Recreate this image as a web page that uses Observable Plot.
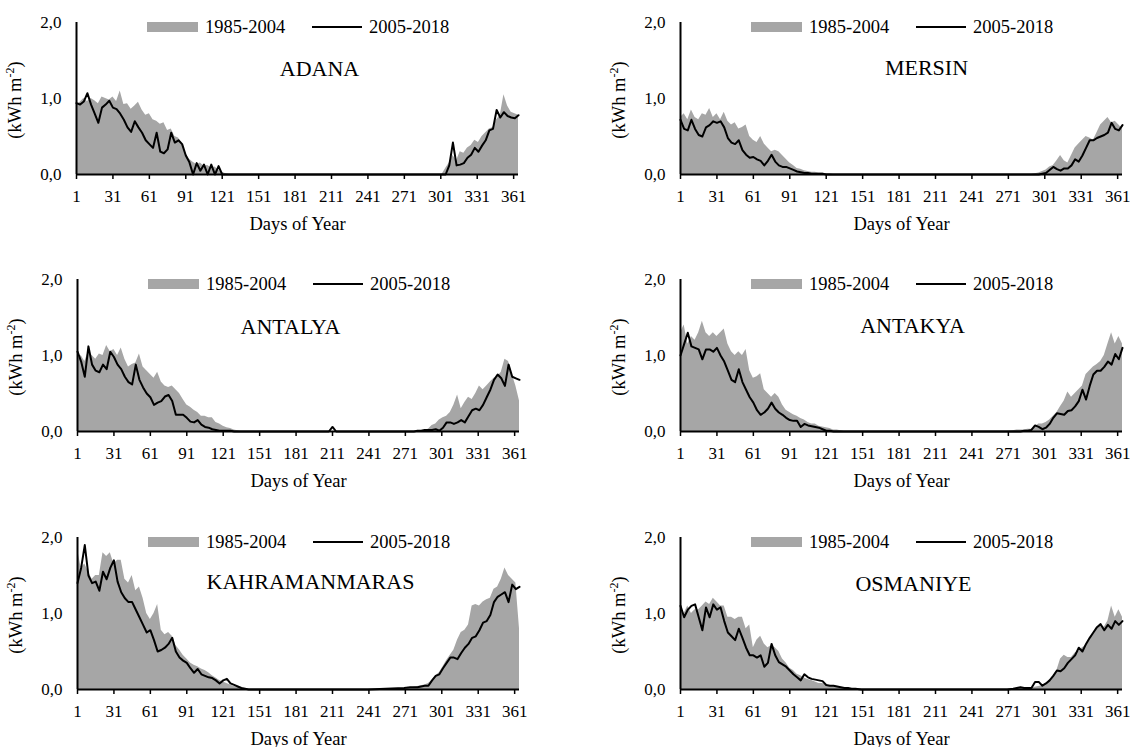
<!DOCTYPE html>
<html><head><meta charset="utf-8">
<script src="https://cdn.jsdelivr.net/npm/d3@7"></script>
<script src="https://cdn.jsdelivr.net/npm/@observablehq/plot@0.6"></script>
<style>
html,body{margin:0;padding:0;background:#fff;overflow:hidden;}
#root{position:relative;width:1134px;height:747px;font-family:"Liberation Serif","Times New Roman",serif;}
.panel{position:absolute;}
</style></head><body><div id="root"></div>
<script>
const days = [1,4,7,10,13,16,19,22,25,28,31,34,37,40,43,46,49,52,55,58,61,64,67,70,73,76,79,82,85,88,91,94,97,100,103,106,109,112,115,118,121,124,127,130,133,136,139,142,145,
  150,165,180,195,208,211,214,225,240,255,270,
  275,278,281,284,287,290,293,296,299,302,305,308,311,314,317,320,323,326,329,332,335,338,341,344,347,350,353,356,359,362,365];
const xTicks = [1,31,61,91,121,151,181,211,241,271,301,331,361];
const yTicks = [0,1,2];
const seriesNames = ["1985-2004","2005-2018"];
const xLabel = "Days of Year";
const stations = ["ADANA","MERSIN","ANTALYA","ANTAKYA","KAHRAMANMARAS","OSMANIYE"];

const adana1985 = [0.92,0.95,1.0,0.96,1.0,0.97,0.93,1.02,1.0,0.98,1.02,0.96,1.1,0.92,0.93,0.86,0.9,0.95,0.85,0.78,0.8,0.72,0.7,0.66,0.68,0.58,0.6,0.5,0.48,0.4,0.28,0.2,0.16,0.13,0.15,0.11,0.12,0.09,0.1,0.06,0.03,0.01,0,0,0,0,0,0,0,
  0,0,0,0,0,0,0,0,0,0,0,
  0,0,0,0,0,0,0,0,0,0,0.08,0.15,0.25,0.18,0.3,0.28,0.35,0.38,0.45,0.42,0.5,0.55,0.6,0.62,0.72,0.78,1.05,0.9,0.82,0.8,0.78];
const adana2005 = [0.94,0.92,0.96,1.07,0.92,0.8,0.68,0.88,0.92,0.97,0.88,0.86,0.8,0.72,0.62,0.56,0.7,0.62,0.55,0.45,0.4,0.35,0.55,0.3,0.28,0.33,0.55,0.42,0.45,0.4,0.25,0.16,0,0.15,0.05,0.13,0,0.13,0,0.11,0,0,0,0,0,0,0,0,0,
  0,0,0,0,0,0,0,0,0,0,0,
  0,0,0,0,0,0,0,0,0,0,0,0.12,0.42,0.12,0.13,0.15,0.22,0.26,0.35,0.3,0.38,0.45,0.58,0.6,0.85,0.75,0.82,0.77,0.75,0.74,0.78];
const mersin1985 = [0.75,0.8,0.72,0.85,0.75,0.72,0.8,0.78,0.87,0.75,0.8,0.72,0.82,0.7,0.65,0.68,0.6,0.62,0.65,0.5,0.45,0.42,0.5,0.4,0.35,0.3,0.32,0.3,0.25,0.2,0.15,0.12,0.08,0.07,0.05,0.04,0.03,0.03,0.02,0.02,0.01,0.01,0,0,0,0,0,0,0,
  0,0,0,0,0,0,0,0,0,0,0,
  0,0,0,0,0,0,0.01,0.02,0.04,0.06,0.1,0.12,0.18,0.25,0.18,0.15,0.25,0.35,0.4,0.45,0.5,0.48,0.45,0.55,0.65,0.7,0.75,0.68,0.7,0.65,0.6];
const mersin2005 = [0.72,0.6,0.58,0.72,0.6,0.52,0.5,0.62,0.65,0.7,0.68,0.7,0.62,0.48,0.42,0.4,0.45,0.32,0.26,0.22,0.23,0.2,0.18,0.12,0.18,0.26,0.17,0.12,0.1,0.1,0.08,0.06,0.04,0.03,0.02,0.02,0.01,0.01,0.01,0.01,0,0,0,0,0,0,0,0,0,
  0,0,0,0,0,0,0,0,0,0,0,
  0,0,0,0,0,0,0,0,0.01,0.02,0.06,0.1,0.07,0.05,0.08,0.08,0.12,0.2,0.17,0.25,0.35,0.45,0.45,0.48,0.5,0.52,0.55,0.68,0.6,0.58,0.65];
const antalya1985 = [0.95,1.0,0.92,1.05,1.0,0.95,1.02,1.0,1.13,1.05,1.08,1.0,1.1,0.95,0.85,0.88,0.9,1.02,0.85,0.8,0.75,0.7,0.78,0.65,0.6,0.58,0.6,0.55,0.5,0.42,0.35,0.32,0.28,0.25,0.2,0.2,0.18,0.18,0.12,0.1,0.07,0.05,0.04,0.02,0.01,0,0,0,0,
  0,0,0,0,0,0,0,0,0,0,0,
  0,0,0,0.01,0.02,0.03,0.08,0.1,0.15,0.18,0.2,0.25,0.35,0.48,0.3,0.38,0.45,0.42,0.5,0.6,0.55,0.6,0.65,0.7,0.72,0.78,0.95,0.92,0.75,0.6,0.4];
const antalya2005 = [1.05,0.92,0.72,1.12,0.88,0.8,0.78,0.88,0.82,1.05,0.98,0.88,0.82,0.72,0.65,0.62,0.88,0.68,0.58,0.5,0.45,0.35,0.38,0.4,0.46,0.48,0.4,0.22,0.22,0.22,0.18,0.13,0.12,0.15,0.09,0.06,0.05,0.03,0.02,0.01,0.01,0.01,0.01,0,0,0,0,0,0,
  0,0,0,0,0,0.06,0,0,0,0,0,
  0,0,0.01,0.01,0.02,0.02,0.02,0.03,0.01,0.05,0.12,0.12,0.1,0.12,0.15,0.12,0.2,0.28,0.3,0.28,0.35,0.45,0.55,0.68,0.75,0.7,0.6,0.88,0.72,0.7,0.68];
const antakya1985 = [1.3,1.4,1.15,1.25,1.2,1.3,1.45,1.3,1.25,1.3,1.25,1.3,1.35,1.15,1.05,1.0,1.05,1.0,1.08,0.8,0.7,0.72,0.76,0.55,0.5,0.45,0.5,0.45,0.35,0.28,0.25,0.22,0.2,0.17,0.15,0.12,0.1,0.1,0.07,0.06,0.05,0.04,0.02,0.02,0.01,0,0,0,0,
  0,0,0,0,0,0,0,0,0,0,0,
  0.01,0.02,0.02,0.02,0.03,0.03,0.06,0.1,0.1,0.12,0.15,0.2,0.25,0.33,0.4,0.52,0.45,0.5,0.55,0.6,0.75,0.8,0.85,0.88,0.92,1.0,1.15,1.3,1.15,1.25,1.15];
const antakya2005 = [1.0,1.15,1.3,1.12,1.1,1.08,0.95,1.08,1.08,1.05,1.1,1.0,0.92,0.8,0.68,0.65,0.82,0.65,0.55,0.45,0.38,0.28,0.22,0.25,0.3,0.38,0.3,0.25,0.22,0.18,0.15,0.14,0.14,0.06,0.1,0.08,0.07,0.06,0.05,0.03,0.01,0.01,0,0,0,0,0,0,0,
  0,0,0,0,0,0,0,0,0,0,0,
  0,0,0,0.01,0.01,0.02,0.08,0.06,0.03,0.05,0.1,0.18,0.24,0.23,0.22,0.27,0.28,0.33,0.4,0.55,0.42,0.6,0.75,0.8,0.8,0.85,0.92,0.88,1.02,0.95,1.1];
const kahramanmaras1985 = [1.85,1.6,1.65,1.55,1.45,1.5,1.5,1.8,1.75,1.8,1.65,1.7,1.7,1.45,1.4,1.5,1.3,1.35,1.2,1.0,0.92,1.0,1.12,0.78,0.72,0.75,0.7,0.58,0.52,0.45,0.4,0.35,0.32,0.3,0.27,0.25,0.22,0.18,0.15,0.12,0.1,0.08,0.06,0.04,0.03,0.02,0.01,0,0,
  0,0,0,0,0,0,0,0,0,0,0,
  0.02,0.03,0.04,0.05,0.06,0.08,0.12,0.18,0.22,0.3,0.38,0.45,0.52,0.65,0.75,0.78,0.85,1.1,1.12,1.1,1.15,1.18,1.2,1.32,1.35,1.45,1.6,1.5,1.45,1.4,0.8];
const kahramanmaras2005 = [1.4,1.6,1.9,1.5,1.4,1.42,1.3,1.55,1.45,1.6,1.7,1.42,1.28,1.2,1.15,1.15,1.05,0.95,0.85,0.75,0.78,0.65,0.5,0.52,0.55,0.6,0.68,0.5,0.42,0.38,0.35,0.28,0.22,0.27,0.2,0.18,0.16,0.15,0.12,0.08,0.12,0.14,0.08,0.06,0.04,0.02,0.01,0,0,
  0,0,0,0,0,0,0,0,0,0.01,0.02,
  0.03,0.03,0.03,0.04,0.05,0.05,0.12,0.18,0.2,0.28,0.35,0.42,0.42,0.4,0.48,0.55,0.6,0.68,0.7,0.78,0.88,0.9,0.98,1.15,1.22,1.25,1.28,1.15,1.38,1.32,1.35];
const osmaniye1985 = [1.05,1.0,1.1,1.0,1.05,1.05,1.1,1.15,1.12,1.2,1.15,1.1,1.1,0.95,0.95,0.92,0.95,0.95,0.8,0.85,0.55,0.65,0.7,0.6,0.55,0.58,0.55,0.5,0.4,0.35,0.28,0.25,0.2,0.18,0.15,0.13,0.12,0.1,0.08,0.08,0.06,0.05,0.05,0.04,0.03,0.02,0.01,0.01,0,
  0,0,0,0,0,0,0,0,0,0,0,
  0.01,0.01,0.02,0.02,0.02,0.02,0.03,0.04,0.05,0.08,0.12,0.18,0.25,0.4,0.45,0.42,0.42,0.48,0.5,0.55,0.58,0.65,0.72,0.8,0.85,0.82,0.9,1.1,0.95,1.05,0.95];
const osmaniye2005 = [1.1,0.95,1.05,1.1,1.12,0.95,0.78,1.08,0.95,1.12,1.05,1.08,0.9,0.75,0.7,0.65,0.8,0.68,0.55,0.45,0.45,0.42,0.45,0.3,0.35,0.6,0.45,0.36,0.33,0.3,0.25,0.2,0.16,0.12,0.2,0.16,0.14,0.13,0.12,0.11,0.06,0.05,0.05,0.04,0.03,0.02,0.02,0.01,0.01,
  0,0,0,0,0,0,0,0,0,0,0,
  0.01,0.02,0.03,0.02,0.02,0.02,0.1,0.1,0.05,0.08,0.12,0.18,0.25,0.24,0.28,0.35,0.4,0.45,0.55,0.5,0.6,0.68,0.75,0.82,0.86,0.78,0.85,0.8,0.9,0.85,0.9];

const FONT = '"Liberation Serif","Times New Roman",serif';
const GRAY = "#a6a6a6";
const ML = 76, MT = 22, PW = 442, PH = 152, W = 530, H = 232;

const panels = [
  {name: stations[0], g: adana1985, l: adana2005, left: 0, top: 0, tdx: 22, tdy: 46},
  {name: stations[1], g: mersin1985, l: mersin2005, left: 604, top: 0, tdx: 25, tdy: 45},
  {name: stations[2], g: antalya1985, l: antalya2005, left: 1, top: 257, tdx: -8, tdy: 47},
  {name: stations[3], g: antakya1985, l: antakya2005, left: 604, top: 257, tdx: 11, tdy: 46},
  {name: stations[4], g: kahramanmaras1985, l: kahramanmaras2005, left: 1, top: 515, tdx: 12, tdy: 44},
  {name: stations[5], g: osmaniye1985, l: osmaniye2005, left: 604, top: 515, tdx: 12, tdy: 46}
];

const fmt = v => v.toFixed(1).replace(".", ",");
const root = document.getElementById("root");

for (const p of panels) {
  const rows = days.map((d, i) => ({day: d, g: p.g[i], l: p.l[i]}));
  const svg = Plot.plot({
    width: W, height: H,
    marginTop: MT, marginBottom: H - MT - PH, marginLeft: ML, marginRight: W - ML - PW,
    style: {fontFamily: FONT, color: "#000", background: "#fff", overflow: "visible"},
    x: {domain: [days[0], days[days.length - 1]], label: null},
    y: {domain: [yTicks[0], yTicks[yTicks.length - 1]], label: null},
    marks: [
      Plot.areaY(rows, {x: "day", y: "g", fill: GRAY}),
      Plot.lineY(rows, {x: "day", y: "l", stroke: "#000", strokeWidth: 2}),
      Plot.ruleX([days[0]], {stroke: "#000", strokeWidth: 2}),
      Plot.ruleY([yTicks[0]], {stroke: "#000", strokeWidth: 2}),
      Plot.axisX(xTicks, {tickSize: 5, tickPadding: 10, fontSize: 17, strokeWidth: 1.5, label: null}),
      Plot.axisY(yTicks, {tickSize: 0, tickPadding: 15, tickFormat: fmt, fontSize: 17, label: null}),
      Plot.text([xLabel], {frameAnchor: "bottom", lineAnchor: "bottom", dy: 55.5, fontSize: 18.5, fill: "#000"}),
      Plot.text([p.name], {frameAnchor: "top", lineAnchor: "middle", dx: p.tdx, dy: p.tdy, fontSize: 22, fill: "#000"})
    ]
  });
  const s = d3.select(svg);
  // legend
  const lg = s.append("g").attr("text-anchor", "start").attr("font-size", 18.5).attr("fill", "#000");
  lg.append("rect").attr("x", ML + 71).attr("y", MT).attr("width", 51).attr("height", 10).attr("fill", GRAY);
  lg.append("text").attr("x", ML + 129).attr("y", MT + 11).text(seriesNames[0]);
  lg.append("line").attr("x1", ML + 236).attr("x2", ML + 286).attr("y1", MT + 5).attr("y2", MT + 5).attr("stroke", "#000").attr("stroke-width", 2);
  lg.append("text").attr("x", ML + 293).attr("y", MT + 11).text(seriesNames[1]);
  // y label
  const t = s.append("text").attr("transform", `translate(21,${MT + PH / 2 + 2}) rotate(-90)`)
    .attr("text-anchor", "middle").attr("font-size", 18.5).attr("fill", "#000");
  t.append("tspan").text("(kWh m");
  t.append("tspan").attr("font-size", 12).attr("dy", -7).text("-2");
  t.append("tspan").attr("dy", 7).text(")");
  const div = document.createElement("div");
  div.className = "panel";
  div.style.left = p.left + "px";
  div.style.top = p.top + "px";
  div.appendChild(svg);
  root.appendChild(div);
}
</script></body></html>
